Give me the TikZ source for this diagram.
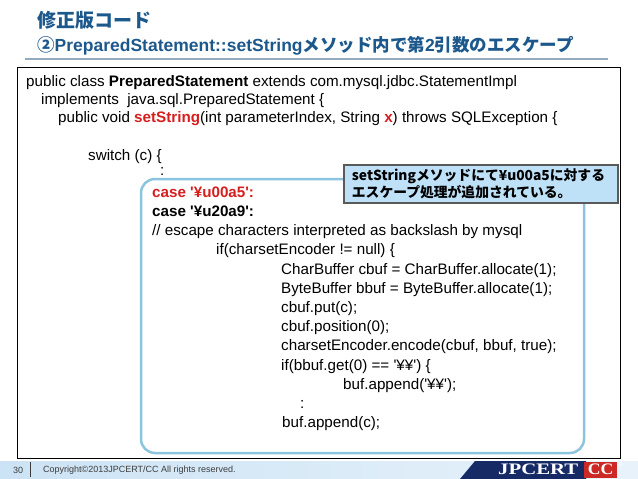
\documentclass[tikz,border=0pt]{standalone}
\usepackage{fontspec}
\setmainfont{Liberation Sans}
\newfontfamily\jp{Noto Sans CJK JP}
\newfontfamily\logofont{Liberation Serif}
\usetikzlibrary{positioning}
\definecolor{titleblue}{RGB}{28,88,140}
\definecolor{codered}{RGB}{214,30,30}
\definecolor{hlblue}{RGB}{140,196,224}
\definecolor{notefill}{RGB}{190,225,248}
\definecolor{notedraw}{RGB}{90,90,90}
\definecolor{rulegray}{RGB}{150,170,190}
\definecolor{footleft}{RGB}{204,227,245}
\definecolor{footright}{RGB}{232,242,250}
\definecolor{logonavy}{RGB}{22,42,102}
\definecolor{logored}{RGB}{204,40,36}
\definecolor{foottext}{RGB}{60,60,60}
\newcommand{\sq}{\textquotesingle}
\newcommand{\hl}[1]{\textbf{\textcolor{codered}{#1}}}
\tikzset{
  code/.style = {font=\fontsize{15.2}{18}\selectfont, inner sep=0pt, text height=11pt, text depth=3pt},
  foot/.style = {font=\fontsize{9}{10}\selectfont, text=foottext, inner sep=0pt},
  logo/.style = {inner sep=0pt, text=white, font=\logofont\bfseries\fontsize{16}{17}\selectfont},
  note/.style = {draw=notedraw, fill=notefill, line width=1.8pt, inner xsep=8pt, inner ysep=4pt,
                 text width=258pt, align=left, font=\jp\bfseries\fontsize{13.8}{16.5}\selectfont}
}
\begin{document}
\begin{tikzpicture}[x=1pt, y=-1pt,
                every node/.append style = {anchor = west}]
\useasboundingbox (0,0) rectangle (638,479);
% heading
\node[inner sep=0pt, text=titleblue, font=\jp\bfseries\fontsize{19}{22}\selectfont] (ttl) at (37,20) {修正版コード};
\node[inner sep=0pt, text=titleblue, font=\bfseries\fontsize{17.5}{20}\selectfont] (sub) at (37,46)
    {{\jp ②}PreparedStatement::setString{\jp メソッド内で第}2{\jp 引数のエスケープ}};
\draw[rulegray, line width=2pt] (25,58.5) -- (608,58.5);
% code frame
\draw[line width=1pt] (17,67) rectangle (620,458);
\draw[hlblue, line width=2.5pt, rounded corners=14pt] (141,179) rectangle (584,453);
% code lines
\node[code] (l1) at (26,82) {public class \textbf{PreparedStatement} extends com.mysql.jdbc.StatementImpl};
\node[code] (l2) at (41,100) {implements\ \ java.sql.PreparedStatement \{};
\node[code] (l3) at (58,118) {public void \hl{setString}(int parameterIndex, String \hl{x}) throws SQLException \{};
\node[code] (sw) at (88,156) {switch (c) \{};
\node[code] (dots1) at (160,171) {:};
\node[code] (case1) at (152,193) {\hl{case \sq¥u00a5\sq:}};
\node[code] (case2) at (152,212) {\textbf{case \sq¥u20a9\sq:}};
\node[code] (cmt) at (152,231) {// escape characters interpreted as backslash by mysql};
\node[code] (ifenc) at (216,250) {if(charsetEncoder != null) \{};
\node[code] (cbuf) at (281,270) {CharBuffer cbuf = CharBuffer.allocate(1);};
\node[code] (bbuf) at (281,289) {ByteBuffer bbuf = ByteBuffer.allocate(1);};
\node[code] (put) at (281,308) {cbuf.put(c);};
\node[code] (pos) at (281,327) {cbuf.position(0);};
\node[code] (enc) at (281,346) {charsetEncoder.encode(cbuf, bbuf, true);};
\node[code] (ifget) at (281,366) {if(bbuf.get(0) == \sq¥¥\sq) \{};
\node[code] (app1) at (343,385) {buf.append(\sq¥¥\sq);};
\node[code] (dots2) at (300,404) {:};
\node[code] (app2) at (282,423) {buf.append(c);};
% callout
\node[note, anchor=north west] (memo) at (343,164)
    {setString{}メソッドにて¥u00a5に対する\\エスケープ処理が追加されている。};
% footer
\shade[left color=footleft, right color=footright] (0,461) rectangle (638,479);
\node[foot] (pg) at (13,470) {30};
\draw[foottext, line width=0.8pt] (30,462) -- (30,477);
\node[foot] (copy) at (43,470) {Copyright©2013JPCERT/CC All rights reserved.};
\fill[logonavy] (460,479) -- (475,461) -- (586,461) -- (586,479) -- cycle;
\fill[logored] (584,462) rectangle (617,478);
\node[logo] (jpc) at (498,469.5) {\scalebox{1.3}[1]{JPCERT}};
\node[logo, anchor=center] (cc) at (600.5,469.5) {\scalebox{1.1}[1]{CC}};
\node[inner sep=0pt, text=white, font=\fontsize{6}{6}\selectfont] (reg) at (619,464) {®};
\end{tikzpicture}
\end{document}
